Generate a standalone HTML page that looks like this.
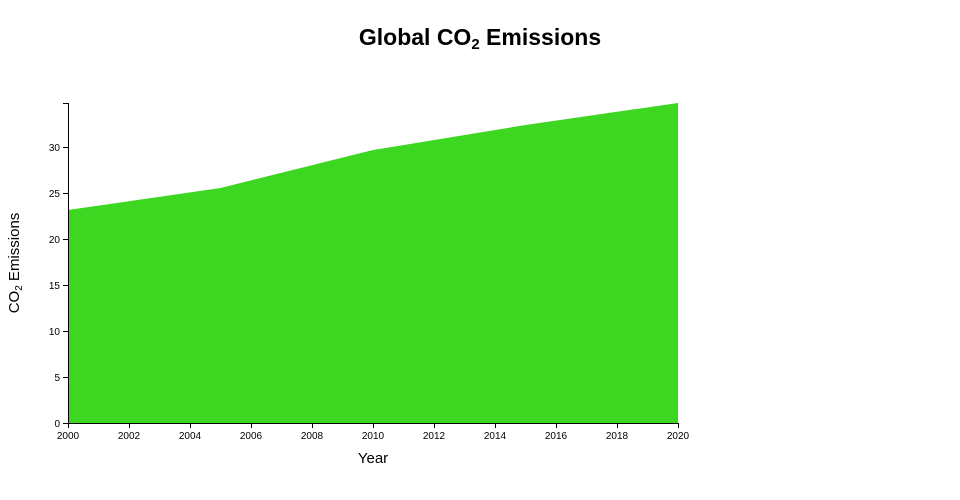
<!DOCTYPE html>
<html><head><meta charset="utf-8"><style>
html,body{margin:0;padding:0;background:#fff;width:960px;height:500px;overflow:hidden}
svg{display:block;font-family:"Liberation Sans","DejaVu Sans",sans-serif}
</style></head><body>
<svg width="960" height="500" viewBox="0 0 960 500">
<text x="480" y="45" text-anchor="middle" font-size="23" font-weight="bold" fill="#000">Global CO<tspan font-size="15" dy="4">2</tspan><tspan dy="-4"> Emissions</tspan></text>
<path d="M68,423 L68,210 L220.5,188 L373,150 L525.5,125 L678,103 L678,423 Z" fill="#3dd620"/>
<g stroke="#000" stroke-width="1" fill="none">
<path d="M68.5,103 V423.5 H678.5"/>
<path d="M63,103.5H68 M63,147.5H68 M63,193.5H68 M63,239.5H68 M63,285.5H68 M63,331.5H68 M63,377.5H68 M63,423.5H68"/>
<path d="M68.5,423V428 M129.5,423V428 M190.5,423V428 M251.5,423V428 M312.5,423V428 M373.5,423V428 M434.5,423V428 M495.5,423V428 M556.5,423V428 M617.5,423V428 M678.5,423V428"/>
</g>
<g font-size="10" fill="#000" text-anchor="end">
<text x="60" y="151">30</text><text x="60" y="197">25</text><text x="60" y="243">20</text><text x="60" y="289">15</text><text x="60" y="335">10</text><text x="60" y="381">5</text><text x="60" y="427">0</text>
</g>
<g font-size="10" fill="#000" text-anchor="middle">
<text x="68" y="439">2000</text><text x="129" y="439">2002</text><text x="190" y="439">2004</text><text x="251" y="439">2006</text><text x="312" y="439">2008</text><text x="373" y="439">2010</text><text x="434" y="439">2012</text><text x="495" y="439">2014</text><text x="556" y="439">2016</text><text x="617" y="439">2018</text><text x="678" y="439">2020</text>
</g>
<text x="373" y="463" text-anchor="middle" font-size="15" fill="#000">Year</text>
<text transform="translate(19,263) rotate(-90)" text-anchor="middle" font-size="15" fill="#000">CO<tspan font-size="10" dy="3">2</tspan><tspan dy="-3"> Emissions</tspan></text>
</svg>
</body></html>
